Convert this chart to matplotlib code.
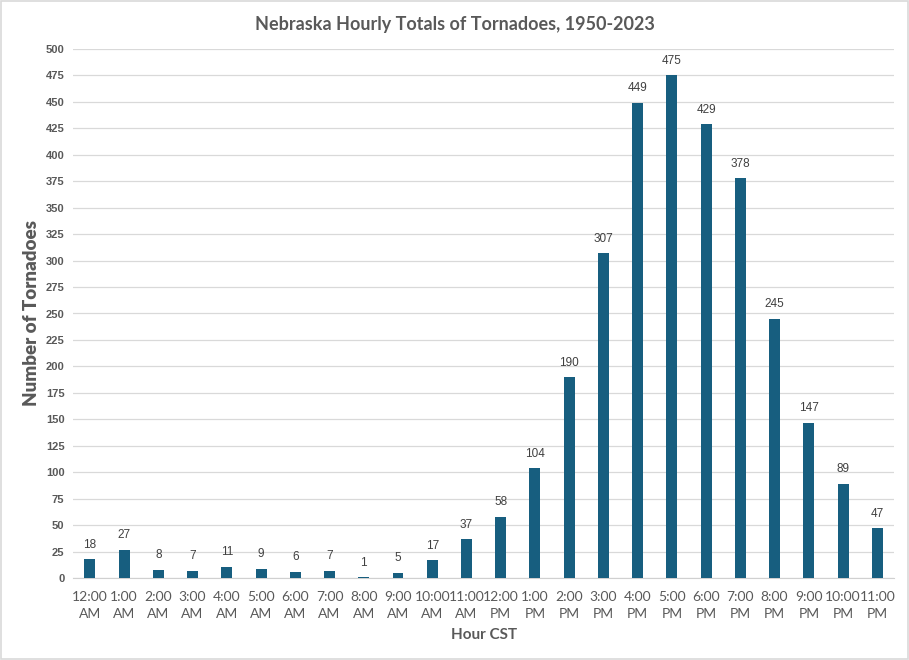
import numpy as np
import matplotlib
matplotlib.use("Agg")
import matplotlib.pyplot as plt

# data
hours = ["12:00\nAM", "1:00\nAM", "2:00\nAM", "3:00\nAM", "4:00\nAM", "5:00\nAM",
         "6:00\nAM", "7:00\nAM", "8:00\nAM", "9:00\nAM", "10:00\nAM", "11:00\nAM",
         "12:00\nPM", "1:00\nPM", "2:00\nPM", "3:00\nPM", "4:00\nPM", "5:00\nPM",
         "6:00\nPM", "7:00\nPM", "8:00\nPM", "9:00\nPM", "10:00\nPM", "11:00\nPM"]
counts = [18, 27, 8, 7, 11, 9, 6, 7, 1, 5, 17, 37,
          58, 104, 190, 307, 449, 475, 429, 378, 245, 147, 89, 47]
y_ticks = list(range(0, 501, 25))

bar_color = "#175E7F"
text_gray = "#595959"

fig = plt.figure(figsize=(9.09, 6.6), dpi=100)
fig.patches.append(plt.Rectangle((0.001, 0.001), 0.998, 0.998, transform=fig.transFigure,
                                 fill=False, edgecolor="#d9d9d9", linewidth=1.2))
ax = fig.add_axes([0.080, 0.124, 0.904, 0.802])

x = np.arange(len(counts))
ax.bar(x, counts, width=0.32, color=bar_color, zorder=3)

for xi, v in zip(x, counts):
    ax.text(xi, v + 8, str(v), ha="center", va="bottom", fontsize=8.5,
            color="#404040", family="Liberation Sans")

ax.set_xlim(-0.5, len(counts) - 0.5)
ax.set_ylim(0, 500)
ax.set_yticks(y_ticks)
ax.set_yticklabels([str(t) for t in y_ticks], fontsize=8, fontweight="bold",
                   color=text_gray, family="Liberation Sans")
ax.set_xticks(x)
ax.set_xticklabels(hours, fontsize=10, color=text_gray, family="Lato", linespacing=1.55)
ax.tick_params(axis="x", length=0, pad=9)
ax.tick_params(axis="y", length=0, pad=6)

ax.grid(axis="y", color="#d9d9d9", linewidth=0.9, zorder=0)
for s in ["top", "right", "left"]:
    ax.spines[s].set_visible(False)
ax.spines["bottom"].set_color("#d0d0d0")

ax.set_ylabel("Number of Tornadoes", fontsize=13.5, fontweight="heavy",
              color=text_gray, family="Lato", labelpad=4)
ax.set_xlabel("Hour CST", fontsize=11, fontweight="bold", color=text_gray,
              family="Lato", labelpad=6)
fig.text(0.5, 0.963, "Nebraska Hourly Totals of Tornadoes, 1950-2023", ha="center",
         va="center", fontsize=13, fontweight="bold", color=text_gray, family="Lato")

fig.savefig("out.png", dpi=100)
